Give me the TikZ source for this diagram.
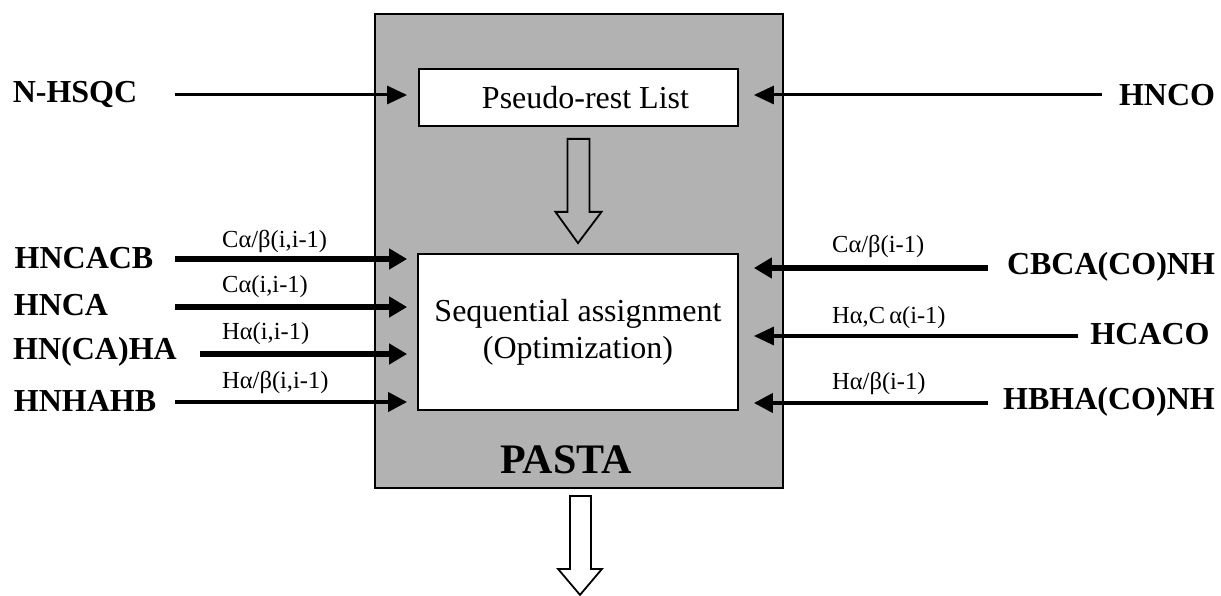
\documentclass[tikz,border=0pt]{standalone}
\usepackage{fontspec}
\setmainfont{Liberation Serif}
\usetikzlibrary{arrows.meta,calc}
\definecolor{boxgray}{RGB}{178,178,178}
\tikzset{
  biglab/.style={font=\fontsize{32}{36}\selectfont\bfseries, inner sep=0pt},
  smalllab/.style={font=\fontsize{24.5}{27}\selectfont, inner sep=0pt},
  whitebox/.style={draw, fill=white, line width=1.8pt, inner sep=0pt, align=center, font=\fontsize{32}{37}\selectfont},
  arthin/.style={line width=3pt, -{Triangle[length=20pt,width=18pt]}},
  arthick/.style={line width=5.2pt, -{Triangle[length=18pt,width=20pt]}},
  armid/.style={line width=4pt, -{Triangle[length=19pt,width=19pt]}},
  hollow/.style={draw, line width=1.8pt, line join=miter},
}
\begin{document}
\begin{tikzpicture}[x=1pt,y=-1pt]
\useasboundingbox (0,0) rectangle (1221,596);
% PASTA box
\node[draw, fill=boxgray, line width=1.8pt, minimum width=408pt, minimum height=474pt, inner sep=0pt] (pasta) at (579,251) {};
\node[font=\fontsize{42}{46}\selectfont\bfseries, inner sep=0pt] (pastalab) at (566,460) {PASTA};
% inner boxes
\node[whitebox, minimum width=319pt, minimum height=57pt] (pr) at (578.5,97.5) {\hspace*{14pt}Pseudo-rest List};
\node[whitebox, minimum width=320pt, minimum height=156pt] (seq) at (578,332) {Sequential assignment\\(Optimization)};
% hollow arrows
\coordinate (d1) at (pr.south);
\coordinate (d2) at (seq.north);
\draw[hollow, fill=boxgray] ($(d1)+(-11,12)$) -- ($(d1)+(11,12)$) -- ($(d1)+(11,85)$) -- ($(d1)+(23,85)$)
  -- ($(d2)+(0,-10)$) -- ($(d1)+(-23,85)$) -- ($(d1)+(-11,85)$) -- cycle;
\coordinate (d3) at (pasta.south);
\draw[hollow, fill=white] ($(d3)+(-9,7)$) -- ($(d3)+(12,7)$) -- ($(d3)+(12,80)$) -- ($(d3)+(23,80)$)
  -- ($(d3)+(1,106)$) -- ($(d3)+(-21,80)$) -- ($(d3)+(-9,80)$) -- cycle;
% left labels
\node[biglab] (nhsqc) at (75,95) {N-HSQC};
\node[biglab] (hncacb) at (84,258) {HNCACB};
\node[biglab] (hnca) at (61,305) {HNCA};
\node[biglab] (hncaha) at (95,352) {HN(CA)HA};
\node[biglab] (hnhahb) at (85,401) {HNHAHB};
% right labels
\node[biglab] (hnco) at (1167,95) {HNCO};
\node[biglab] (cbca) at (1111,267) {CBCA(CO)NH};
\node[biglab] (hcaco) at (1150,334) {HCACO};
\node[biglab] (hbha) at (1109,402) {HBHA(CO)NH};
% small labels
\node[smalllab, anchor=west] (l1) at (222,241) {Cα/β(i,i-1)};
\node[smalllab, anchor=west] (l2) at (222,287) {Cα(i,i-1)};
\node[smalllab, anchor=west] (l3) at (222,334) {Hα(i,i-1)};
\node[smalllab, anchor=west] (l4) at (222,382) {Hα/β(i,i-1)};
\node[smalllab, anchor=west] (r1) at (832,246) {Cα/β(i-1)};
\node[smalllab, anchor=west] (r2) at (832,318) {Hα,C\,α(i-1)};
\node[smalllab, anchor=west] (r3) at (832,383) {Hα/β(i-1)};
% arrow start coordinates
\coordinate (s1) at (175,95);
\coordinate (s2) at (175,259);
\coordinate (s3) at (175,307);
\coordinate (s4) at (200,354);
\coordinate (s5) at (175,402);
\coordinate (t1) at (1102,95);
\coordinate (t2) at (988,268);
\coordinate (t3) at (1078,336);
\coordinate (t4) at (988,403);
% arrows
\draw[arthin] (s1) -- ([xshift=-11pt]pr.west |- s1);
\draw[arthick] (s2) -- ([xshift=-10pt]seq.west |- s2);
\draw[arthick] (s3) -- ([xshift=-10pt]seq.west |- s3);
\draw[arthick] (s4) -- ([xshift=-10pt]seq.west |- s4);
\draw[armid] (s5) -- ([xshift=-10pt]seq.west |- s5);
\draw[arthin] (t1) -- ([xshift=15pt]pr.east |- t1);
\draw[arthick] (t2) -- ([xshift=15pt]seq.east |- t2);
\draw[line width=3.2pt, -{Triangle[length=20pt,width=18pt]}] (t3) -- ([xshift=15pt]seq.east |- t3);
\draw[armid] (t4) -- ([xshift=15pt]seq.east |- t4);
\end{tikzpicture}
\end{document}
